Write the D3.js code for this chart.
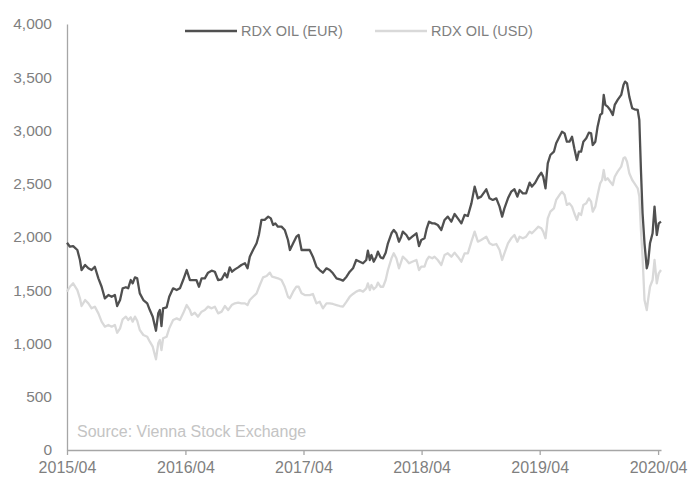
<!DOCTYPE html>
<html>
<head>
<meta charset="utf-8">
<script src="https://cdn.jsdelivr.net/npm/d3@7"></script>
<style>
  html, body { margin: 0; padding: 0; background: #fff; }
  svg { display: block; font-family: "Liberation Sans", Arial, sans-serif; }
</style>
</head>
<body>
<div class="chart"></div>
<script>
// weekly-ish readings, x given as days since 2015-04-01
var startDate = new Date(2015, 3, 1);
var endDate = new Date(2020, 3, 10);

var eurDays = [0,9,19,32,40,45,56,66,76,86,97,107,117,128,138,148,155,164,172,182,189,197,203,210,217,225,236,248,256,265,275,282,287,292,297,308,316,328,339,349,359,370,380,
  390,400,408,416,426,436,447,457,467,478,488,495,503,510,519,529,539,550,558,565,575,586,593,601,611,622,630,637,644,652,663,673,683,689,699,709,716,725,735,745,
  750,760,771,781,791,802,812,822,833,843,853,864,874,884,894,905,915,925,930,936,941,948,956,961,969,977,985,992,1003,1010,1018,1026,1033,1038,1049,1057,1067,1080,1088,1095,1105,1112,1119,1129,
  1136,1146,1157,1167,1177,1188,1198,1208,1219,1229,1239,1250,1260,1270,1280,1296,1306,1316,1327,1337,1345,1352,1363,1373,1383,1392,1399,1409,1419,1430,1437,1447,1457,1466,1472,1479,1486,1494,1505,1512,
  1522,1530,1538,1545,1553,1561,1568,1576,1582,1589,1596,1605,1613,1620,1625,1633,1640,1648,1654,1659,1664,1671,1679,1687,1693,1702,1713,1720,1725,1731,1738,1747,1754,1764,1769,1774,1779,1785,1792,1796,1802,1810,1816,1823,1829,1836];

var eurValues = [1946,1909,1915,1878,1784,1690,1737,1706,1690,1721,1612,1533,1424,1455,1439,1455,1352,1408,1518,1528,1518,1596,1565,1621,1612,1471,1408,1377,1314,1252,1120,1283,1314,1164,1330,1340,1439,1518,1502,1518,1596,1690,1596,
  1596,1596,1533,1612,1612,1665,1684,1674,1596,1603,1659,1621,1715,1674,1696,1715,1737,1753,1706,1815,1878,1941,2019,2160,2160,2191,2175,2113,2128,2097,2097,2066,1972,1878,1941,2003,2019,1878,1878,1878,
  1878,1815,1721,1690,1665,1706,1690,1659,1612,1603,1590,1627,1674,1706,1784,1768,1753,1784,1872,1784,1831,1768,1815,1862,1809,1800,1853,1941,2035,2066,2035,1956,2003,2050,2019,1978,2003,2035,1915,1972,1988,2082,2144,2128,
  2128,2113,2066,2160,2191,2144,2216,2175,2128,2207,2197,2316,2473,2363,2379,2448,2363,2348,2363,2285,2191,2269,2363,2426,2448,2379,2441,2410,2410,2510,2473,2510,2566,2604,2566,2457,2692,2770,2801,2880,
  2942,2989,2973,2895,2895,2942,2833,2723,2801,2801,2895,2927,2980,2973,2864,2895,3036,3146,3161,3334,3240,3224,3193,3146,3240,3287,3334,3428,3459,3443,3318,3209,3199,3193,3099,2629,2223,1941,1706,1753,1941,2035,2285,2019,2128,2144];

var usdDays = [0,9,19,32,40,45,56,66,76,86,97,107,117,128,138,148,155,164,172,182,189,197,203,210,217,225,236,248,256,265,275,282,287,292,297,308,316,328,339,349,359,370,380,
  385,395,405,416,426,436,447,457,467,478,488,498,509,519,529,539,550,558,565,575,586,596,606,617,627,634,642,652,663,673,683,689,699,709,716,725,735,745,
  750,760,771,781,791,802,812,822,833,843,853,864,874,884,894,905,915,925,930,936,941,948,956,961,969,977,985,992,1003,1010,1018,1026,1033,1038,1049,1057,1067,1080,1088,1095,1105,1112,1119,1129,
  1136,1146,1157,1167,1177,1188,1198,1208,1219,1229,1239,1250,1260,1270,1280,1296,1306,1316,1327,1337,1345,1352,1363,1373,1383,1392,1399,1409,1419,1430,1437,1447,1457,1466,1472,1479,1486,1494,1505,1512,
  1522,1530,1538,1545,1553,1561,1568,1576,1582,1589,1596,1605,1613,1620,1625,1633,1640,1648,1654,1659,1664,1671,1679,1687,1693,1702,1713,1720,1725,1731,1738,1747,1754,1764,1769,1774,1779,1785,1792,1796,1802,1810,1816,1823,1829,1836];

var usdValues = [1487,1533,1565,1502,1424,1352,1408,1377,1330,1346,1283,1205,1158,1174,1158,1174,1101,1142,1227,1252,1221,1246,1205,1252,1214,1127,1080,1064,1017,970,852,1002,1033,939,1049,1064,1142,1221,1236,1221,1283,1361,1314,
  1268,1289,1252,1299,1314,1346,1330,1346,1283,1299,1352,1314,1361,1377,1383,1377,1377,1361,1408,1439,1471,1549,1621,1634,1665,1627,1621,1612,1596,1533,1439,1424,1487,1533,1533,1471,1455,1455,
  1455,1465,1377,1393,1330,1377,1377,1371,1361,1352,1346,1393,1439,1465,1487,1502,1487,1518,1565,1502,1549,1509,1533,1571,1533,1533,1596,1690,1800,1847,1800,1706,1768,1815,1784,1753,1768,1784,1690,1721,1721,1784,1815,1800,
  1815,1784,1737,1831,1847,1815,1853,1815,1768,1847,1847,1956,2050,1956,1972,2003,1941,1925,1934,1878,1784,1847,1941,1988,2019,1956,2003,1988,2003,2050,2035,2066,2097,2082,2050,1988,2175,2238,2269,2348,
  2394,2426,2394,2301,2316,2285,2223,2160,2223,2207,2301,2316,2363,2332,2238,2285,2394,2504,2535,2629,2535,2551,2519,2488,2566,2614,2661,2739,2748,2707,2598,2535,2504,2457,2379,2066,1815,1408,1314,1408,1533,1596,1784,1565,1659,1690];

var yTicks = [0, 500, 1000, 1500, 2000, 2500, 3000, 3500, 4000];
var xTicks = ['2015/04', '2016/04', '2017/04', '2018/04', '2019/04', '2020/04'];

var seriesNames = ['RDX OIL (EUR)', 'RDX OIL (USD)'];
var seriesColors = ['#505050', '#d9d9d9'];

var width = 690, height = 477;
var margin = {top: 24, right: 29, bottom: 27, left: 67};

var parseTick = d3.timeParse('%Y/%m');
var toDate = d => d3.timeDay.offset(startDate, d);

var series = [
  eurDays.map((d, i) => ({date: toDate(d), value: eurValues[i]})),
  usdDays.map((d, i) => ({date: toDate(d), value: usdValues[i]}))
];

var x = d3.scaleTime()
  .domain([startDate, endDate])
  .range([margin.left, width - margin.right]);

var y = d3.scaleLinear()
  .domain([0, 4000])
  .range([height - margin.bottom, margin.top]);

var svg = d3.select('.chart').append('svg')
  .attr('width', width)
  .attr('height', height);

// y axis: line and labels, no ticks
var yAxis = svg.append('g')
  .attr('transform', `translate(${margin.left},0)`)
  .call(d3.axisLeft(y).tickValues(yTicks).tickSize(0).tickPadding(15).tickFormat(d3.format(',')));
yAxis.select('.domain').attr('stroke', '#a6a6a6').attr('stroke-width', 1.3);
yAxis.selectAll('text').attr('fill', '#7f7f7f').style('font-size', '15.5px')
  .style('font-family', '"Liberation Sans", Arial, sans-serif');

// x axis
var xAxis = svg.append('g')
  .attr('transform', `translate(0,${height - margin.bottom})`)
  .call(d3.axisBottom(x).tickValues(xTicks.map(parseTick)).tickSize(5).tickSizeOuter(0).tickPadding(7).tickFormat(d3.timeFormat('%Y/%m')));
xAxis.select('.domain').attr('stroke', '#a6a6a6').attr('stroke-width', 1.3);
xAxis.selectAll('line').attr('stroke', '#a6a6a6').attr('stroke-width', 1.3);
xAxis.selectAll('text').attr('fill', '#7f7f7f').style('font-size', '16px')
  .style('font-family', '"Liberation Sans", Arial, sans-serif');

var line = d3.line()
  .x(d => x(d.date))
  .y(d => y(d.value));

// USD drawn first, EUR on top
[1, 0].forEach(i => {
  svg.append('path')
    .datum(series[i])
    .attr('fill', 'none')
    .attr('stroke', seriesColors[i])
    .attr('stroke-width', 2.3)
    .attr('stroke-linejoin', 'round')
    .attr('d', line);
});

// legend
var legendX = [185, 375];
var legend = svg.selectAll('.legend')
  .data(seriesNames)
  .enter().append('g')
  .attr('class', 'legend')
  .attr('transform', (d, i) => `translate(${legendX[i]},31)`);

legend.append('line')
  .attr('x1', 0).attr('x2', 52)
  .attr('stroke', (d, i) => seriesColors[i])
  .attr('stroke-width', 2.5);

legend.append('text')
  .attr('x', 56)
  .attr('dy', '0.35em')
  .attr('fill', '#7f7f7f')
  .style('font-size', '14.5px')
  .text(d => d);

svg.append('text')
  .attr('x', 77)
  .attr('y', 437)
  .attr('fill', '#c4c4c4')
  .style('font-size', '16px')
  .text('Source: Vienna Stock Exchange');
</script>
</body>
</html>
